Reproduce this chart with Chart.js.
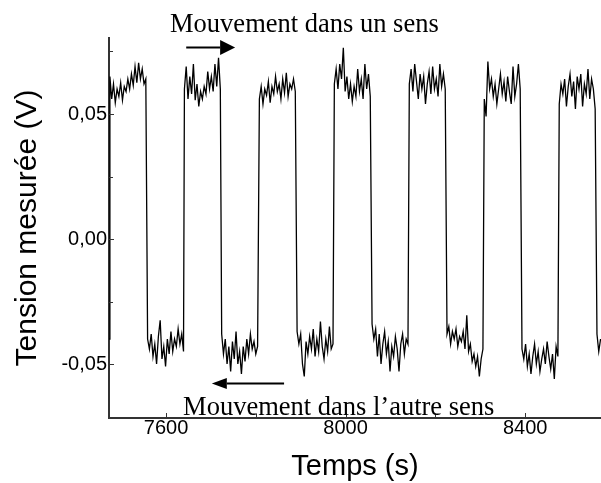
<!DOCTYPE html>
<html lang="fr">
<head>
<meta charset="utf-8">
<title>Tension mesurée</title>
<script src="https://cdn.jsdelivr.net/npm/chart.js@4.4.1/dist/chart.umd.min.js"></script>
<style>
  html, body { margin: 0; padding: 0; background: #fff; }
  #wrap { width: 601px; height: 483px; position: relative; }
</style>
</head>
<body>
<div id="wrap"><canvas id="signal"></canvas></div>
<script>
// --- DONNÉES ---
// temps (s), un bloc par palier
const temps = [
  7473,
  7475, 7479, 7483, 7487, 7491, 7495, 7499, 7503, 7507, 7511, 7515, 7519, 7523, 7527, 7531, 7535, 7539, 7543, 7547, 7551, 7555,
  7559, 7563, 7567, 7571, 7575, 7579, 7583, 7587, 7591, 7595, 7599, 7603, 7607, 7611, 7615, 7619, 7623, 7627, 7631, 7635, 7639,
  7641, 7645, 7649, 7653, 7657, 7661, 7665, 7669, 7673, 7677, 7681, 7685, 7689, 7693, 7697, 7701, 7705, 7709, 7713, 7717, 7721,
  7724, 7728, 7732, 7736, 7740, 7744, 7748, 7752, 7756, 7760, 7764, 7768, 7772, 7776, 7780, 7784, 7788, 7792, 7796, 7800, 7804,
  7808, 7812, 7816, 7820, 7824, 7828, 7832, 7836, 7840, 7844, 7848, 7852, 7856, 7860, 7864, 7868, 7872, 7876, 7880, 7884, 7888,
  7892, 7896, 7900, 7904, 7908, 7912, 7916, 7920, 7924, 7928, 7932, 7936, 7940, 7944, 7948, 7952, 7956, 7960, 7964, 7968, 7972,
  7975, 7979, 7983, 7987, 7991, 7995, 7999, 8003, 8007, 8011, 8015, 8019, 8023, 8027, 8031, 8035, 8039, 8043, 8047, 8051, 8055,
  8059, 8063, 8067, 8071, 8075, 8079, 8083, 8087, 8091, 8095, 8099, 8103, 8107, 8111, 8115, 8119, 8123, 8127, 8131, 8135, 8139,
  8142, 8146, 8150, 8154, 8158, 8162, 8166, 8170, 8174, 8178, 8182, 8186, 8190, 8194, 8198, 8202, 8206, 8210, 8214, 8218, 8222,
  8226, 8230, 8234, 8238, 8242, 8246, 8250, 8254, 8258, 8262, 8266, 8270, 8274, 8278, 8282, 8286, 8290, 8294, 8298, 8302, 8306,
  8309, 8313, 8317, 8321, 8325, 8329, 8333, 8337, 8341, 8345, 8349, 8353, 8357, 8361, 8365, 8369, 8373, 8377, 8381, 8385, 8389,
  8393, 8397, 8401, 8405, 8409, 8413, 8417, 8421, 8425, 8429, 8433, 8437, 8441, 8445, 8449, 8453, 8457, 8461, 8465, 8469, 8473,
  8476, 8480, 8484, 8488, 8492, 8496, 8500, 8504, 8508, 8512, 8516, 8520, 8524, 8528, 8532, 8536, 8540, 8544, 8548, 8552, 8556,
  8560, 8564, 8568
];

// tension mesurée (V), mêmes blocs
const tension = [
  -0.0400,
  0.0650, 0.0560, 0.0620, 0.0545, 0.0600, 0.0570, 0.0625, 0.0555, 0.0610, 0.0590, 0.0640, 0.0600, 0.0660, 0.0615, 0.0690, 0.0625, 0.0705, 0.0640, 0.0680, 0.0620, 0.0640,
  -0.0400, -0.0440, -0.0380, -0.0470, -0.0420, -0.0500, -0.0390, -0.0325, -0.0480, -0.0430, -0.0510, -0.0400, -0.0460, -0.0370, -0.0450, -0.0400, -0.0430, -0.0360, -0.0420, -0.0380, -0.0450,
  0.0600, 0.0690, 0.0560, 0.0650, 0.0580, 0.0700, 0.0555, 0.0620, 0.0530, 0.0590, 0.0560, 0.0610, 0.0580, 0.0670, 0.0600, 0.0650, 0.0590, 0.0700, 0.0610, 0.0725, 0.0600,
  -0.0380, -0.0460, -0.0400, -0.0500, -0.0430, -0.0530, -0.0410, -0.0480, -0.0370, -0.0500, -0.0450, -0.0540, -0.0430, -0.0490, -0.0400, -0.0460, -0.0380, -0.0440, -0.0410, -0.0460, -0.0430,
  0.0560, 0.0610, 0.0540, 0.0600, 0.0575, 0.0630, 0.0545, 0.0610, 0.0580, 0.0650, 0.0590, 0.0620, 0.0560, 0.0640, 0.0585, 0.0665, 0.0570, 0.0620, 0.0600, 0.0640, 0.0590,
  -0.0370, -0.0420, -0.0380, -0.0500, -0.0550, -0.0410, -0.0460, -0.0390, -0.0440, -0.0360, -0.0470, -0.0400, -0.0450, -0.0330, -0.0430, -0.0480, -0.0400, -0.0450, -0.0350, -0.0440, -0.0420,
  0.0620, 0.0680, 0.0600, 0.0700, 0.0640, 0.0765, 0.0590, 0.0650, 0.0560, 0.0620, 0.0550, 0.0610, 0.0570, 0.0680, 0.0590, 0.0640, 0.0560, 0.0700, 0.0600, 0.0660, 0.0570,
  -0.0340, -0.0400, -0.0360, -0.0470, -0.0380, -0.0500, -0.0420, -0.0370, -0.0460, -0.0410, -0.0530, -0.0430, -0.0470, -0.0390, -0.0440, -0.0530, -0.0420, -0.0380, -0.0460, -0.0400, -0.0420,
  0.0620, 0.0680, 0.0590, 0.0700, 0.0630, 0.0560, 0.0660, 0.0600, 0.0650, 0.0540, 0.0620, 0.0670, 0.0580, 0.0690, 0.0600, 0.0640, 0.0570, 0.0700, 0.0610, 0.0660, 0.0600,
  -0.0380, -0.0350, -0.0420, -0.0370, -0.0400, -0.0360, -0.0430, -0.0390, -0.0410, -0.0370, -0.0440, -0.0305, -0.0450, -0.0420, -0.0490, -0.0460, -0.0510, -0.0470, -0.0550, -0.0480, -0.0440,
  0.0560, 0.0490, 0.0710, 0.0600, 0.0640, 0.0570, 0.0620, 0.0540, 0.0600, 0.0660, 0.0580, 0.0630, 0.0550, 0.0650, 0.0590, 0.0540, 0.0690, 0.0570, 0.0620, 0.0700, 0.0600,
  -0.0440, -0.0480, -0.0420, -0.0510, -0.0460, -0.0540, -0.0470, -0.0420, -0.0500, -0.0450, -0.0530, -0.0480, -0.0440, -0.0500, -0.0410, -0.0470, -0.0520, -0.0460, -0.0560, -0.0430, -0.0470,
  0.0540, 0.0620, 0.0580, 0.0640, 0.0530, 0.0610, 0.0660, 0.0570, 0.0630, 0.0520, 0.0650, 0.0600, 0.0660, 0.0530, 0.0620, 0.0580, 0.0680, 0.0560, 0.0640, 0.0600, 0.0520,
  -0.0380, -0.0450, -0.0400
];

// axes
const xMin = 7473, xMax = 8569;
const yMin = -0.0716, yMax = 0.0804;
const xTickLabels = [7600, 8000, 8400];
const yTickLabels = [-0.05, 0.00, 0.05];
const xTickMarks = [7600, 7800, 8000, 8200, 8400];
const yTickMarks = [-0.05, -0.025, 0, 0.025, 0.05, 0.075];

// annotations
const texteHaut = 'Mouvement dans un sens';
const texteBas = 'Mouvement dans l\u2019autre sens';

const SANS = '"Liberation Sans", Arial, Helvetica, sans-serif';
const SERIF = '"Liberation Serif", "Times New Roman", serif';

// petits traits de graduation vers l'intérieur
const ticksInterieurs = {
  id: 'ticksInterieurs',
  afterDraw(chart) {
    const { ctx, chartArea, scales: { x, y } } = chart;
    ctx.save();
    ctx.strokeStyle = '#333';
    ctx.lineWidth = 1;
    xTickMarks.forEach(v => {
      const px = Math.round(x.getPixelForValue(v)) + 0.5;
      const len = xTickLabels.includes(v) ? 5 : 4;
      ctx.beginPath();
      ctx.moveTo(px, chartArea.bottom);
      ctx.lineTo(px, chartArea.bottom - len);
      ctx.stroke();
    });
    yTickMarks.forEach(v => {
      const py = Math.round(y.getPixelForValue(v)) + 0.5;
      const len = yTickLabels.some(l => Math.abs(l - v) < 1e-9) ? 5 : 4;
      ctx.beginPath();
      ctx.moveTo(chartArea.left, py);
      ctx.lineTo(chartArea.left + len, py);
      ctx.stroke();
    });
    ctx.restore();
  }
};

function fleche(ctx, x0, x1, y, demi) {
  const dir = Math.sign(x1 - x0);
  const base = x1 - dir * 15;
  ctx.beginPath();
  ctx.moveTo(x0, y);
  ctx.lineTo(base, y);
  ctx.stroke();
  ctx.beginPath();
  ctx.moveTo(x1, y);
  ctx.lineTo(base, y - demi);
  ctx.lineTo(base, y + demi);
  ctx.closePath();
  ctx.fill();
}

// textes et flèches, placés en unités des axes
const annotations = {
  id: 'annotations',
  afterDraw(chart) {
    const { ctx, scales: { x, y } } = chart;
    ctx.save();
    ctx.fillStyle = '#000';
    ctx.strokeStyle = '#000';
    ctx.lineWidth = 2;
    ctx.font = '26.5px ' + SERIF;
    ctx.textAlign = 'left';
    ctx.textBaseline = 'alphabetic';
    ctx.fillText(texteHaut, x.getPixelForValue(7609), y.getPixelForValue(0.0828));
    ctx.fillText(texteBas, x.getPixelForValue(7638), y.getPixelForValue(-0.0704));
    fleche(ctx, x.getPixelForValue(7645), x.getPixelForValue(7754), y.getPixelForValue(0.0766), 7.5);
    fleche(ctx, x.getPixelForValue(7863), x.getPixelForValue(7702), y.getPixelForValue(-0.0578), 5.5);
    ctx.restore();
  }
};

new Chart(document.getElementById('signal'), {
  type: 'line',
  data: {
    datasets: [{
      data: temps.map((t, i) => ({ x: t, y: tension[i] })),
      borderColor: '#000',
      borderWidth: 1.3,
      pointRadius: 0,
      tension: 0,
      fill: false
    }]
  },
  options: {
    responsive: true,
    maintainAspectRatio: false,
    animation: false,
    events: [],
    layout: { padding: { top: 38, right: 0, bottom: 0, left: 0 } },
    plugins: { legend: { display: false }, tooltip: { enabled: false } },
    scales: {
      x: {
        type: 'linear',
        min: xMin,
        max: xMax,
        afterBuildTicks: s => { s.ticks = xTickLabels.map(v => ({ value: v })); },
        afterFit: s => { s.height = 65; },
        grid: { display: false, drawTicks: false },
        border: { display: true, color: '#333', width: 2 },
        ticks: {
          color: '#000',
          padding: 0,
          maxRotation: 0,
          autoSkip: false,
          font: { family: SANS, size: 20, lineHeight: 1 },
          callback: v => String(v)
        },
        title: {
          display: true,
          text: 'Temps (s)',
          color: '#000',
          font: { family: SANS, size: 29, lineHeight: 1 },
          padding: { top: 0, bottom: 2 }
        }
      },
      y: {
        type: 'linear',
        min: yMin,
        max: yMax,
        afterBuildTicks: s => { s.ticks = yTickLabels.map(v => ({ value: v })); },
        afterFit: s => { s.width = 109; },
        grid: { display: false, drawTicks: false },
        border: { display: true, color: '#333', width: 2 },
        ticks: {
          color: '#000',
          padding: 2,
          autoSkip: false,
          font: { family: SANS, size: 20 },
          callback: v => v.toFixed(2).replace('.', ',')
        },
        title: {
          display: true,
          text: 'Tension mesurée (V)',
          color: '#000',
          font: { family: SANS, size: 30, lineHeight: 1 },
          padding: { top: 13, bottom: 0 }
        }
      }
    }
  },
  plugins: [ticksInterieurs, annotations]
});
</script>
</body>
</html>
